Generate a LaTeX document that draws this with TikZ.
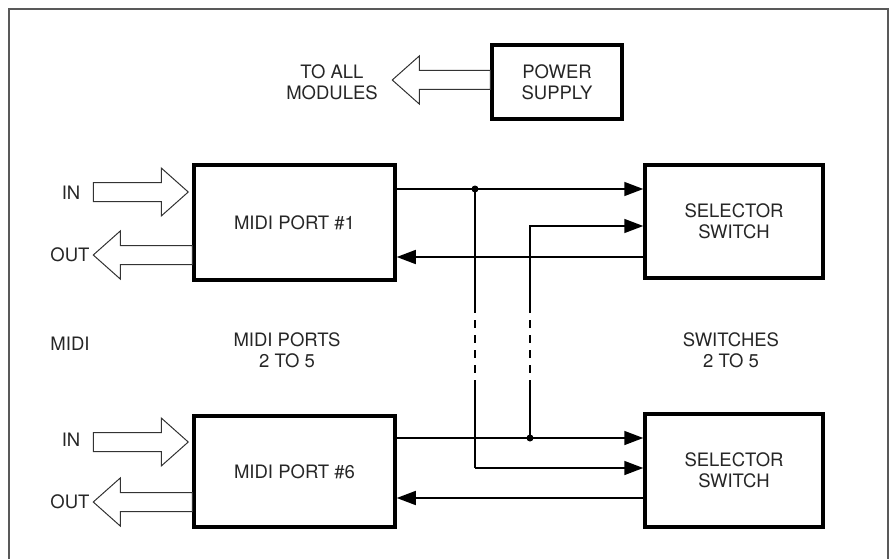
\documentclass[tikz,border=0pt]{standalone}
\usepackage{fontspec}
\setmainfont{TeX Gyre Heros}
\usetikzlibrary{arrows.meta,calc}
\tikzset{box/.style={draw,line width=3.5pt,align=center,inner sep=0pt},
sig/.style={line width=1.6pt},sigto/.style={sig,-{Triangle[length=19pt,width=14pt]}},
gap/.style={line width=2.4pt,dash pattern=on 8pt off 7pt},
fat/.style={line width=1pt,black!80},
pics/hollow/.style={code={\draw[fat](0,0)--(-27,-24)--(-27,-9.5)--(-#1,-9.5)--(-#1,9.5)--(-27,9.5)--(-27,24)--cycle;}}}
\begin{document}
\begin{tikzpicture}[x=1pt,y=-1pt,font=\fontsize{18.5}{21}\selectfont,text=black!85]
\useasboundingbox(0,0)rectangle(893,559);
\draw[line width=1.5pt,black!65](9,559)--(9,9)--(888,9)--(888,559);
\node[box,minimum width=130pt,minimum height=74pt](ps)at(557,82){POWER\\SUPPLY};
\node[box,minimum width=201pt,minimum height=115pt](p1)at(294.5,222.5){MIDI PORT \#1};
\node[box,minimum width=201pt,minimum height=111pt](p6)at(294.5,471.5){MIDI PORT \#6};
\node[box,minimum width=178pt,minimum height=113pt](s1)at(734,221.5){SELECTOR\\SWITCH};
\node[box,minimum width=178pt,minimum height=113pt](s2)at(734,470.5){SELECTOR\\SWITCH};
\pic[rotate=180]at($(ps.west)+(-98,-2)$){hollow=98};
\pic at($(p1.west)+(-4,-30.5)$){hollow=95};\pic[rotate=180]at($(p1.west)+(-99,32.5)$){hollow=99};
\pic at($(p6.west)+(-4,-29.5)$){hollow=95};\pic[rotate=180]at($(p6.west)+(-99,30.5)$){hollow=99};
\node[align=center](lmods)at(332,82){TO ALL\\MODULES};
\node(lin1)at(71,193){IN};\node(lout1)at(70,255){OUT};\node(lin6)at(71,440){IN};\node(lout6)at(70,502){OUT};
\node(lmidi)at(70,344){MIDI};\node[align=center](lports)at(287,350){MIDI PORTS\\2 TO 5};\node[align=center](lsw)at(731,350){SWITCHES\\2 TO 5};
\coordinate(j1)at(475,189);\coordinate(k1)at(530,226);\coordinate(r1)at(0,257);
\coordinate(j6)at(530,438);\coordinate(k6)at(475,468);\coordinate(r6)at(0,498);
\draw[sigto](p1.east|-j1)--(s1.west|-j1);\draw[sigto](530,313)--(k1)--(s1.west|-k1);\draw[sigto](s1.west|-r1)--(p1.east|-r1);
\draw[sigto](p6.east|-j6)--(s2.west|-j6);\draw[sigto](k6)--(s2.west|-k6);\draw[sigto](s2.west|-r6)--(p6.east|-r6);
\draw[sig](j1)--(475,313);\draw[sig](475,380)--(k6);\draw[sig](530,380)--(j6);
\draw[gap](475,320)--(475,375);\draw[gap](530,320)--(530,375);
\fill(j1)circle(3.5pt);\fill(j6)circle(3.5pt);
\end{tikzpicture}
\end{document}
